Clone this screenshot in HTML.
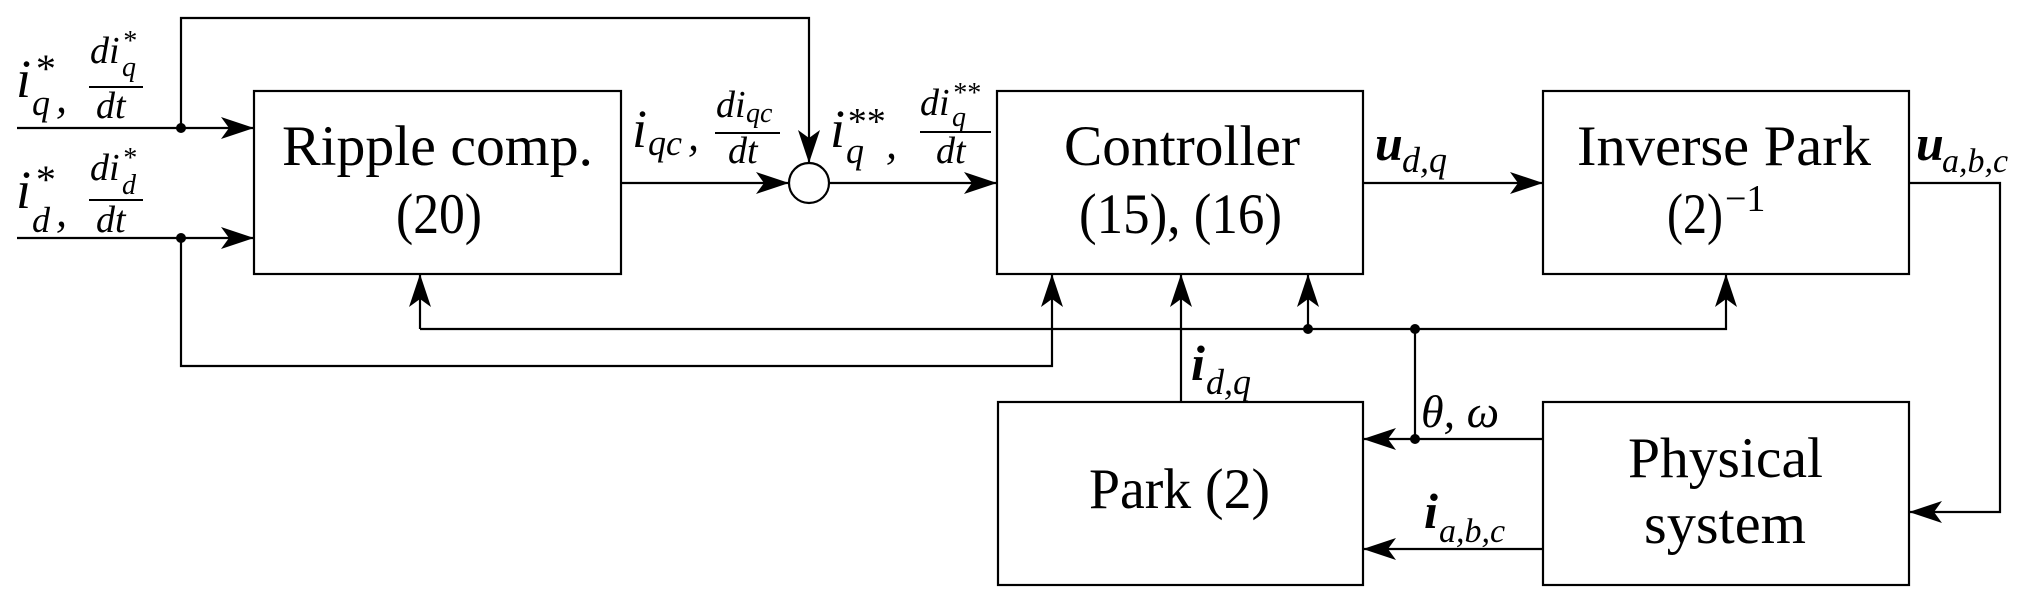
<!DOCTYPE html>
<html><head><meta charset="utf-8"><style>html,body{margin:0;padding:0;background:#fff}svg{display:block}</style></head>
<body>
<svg width="2041" height="605" viewBox="0 0 2041 605" xmlns="http://www.w3.org/2000/svg" font-family="'Liberation Serif', serif">
<defs>
<marker id="a" markerWidth="34" markerHeight="24" refX="33" refY="12" orient="auto" markerUnits="userSpaceOnUse">
<path d="M0,1 L33,12 L0,23 L8,12 Z" fill="#000"/>
</marker>
</defs>
<g stroke="#000" stroke-width="2.2" fill="none">
<rect x="254" y="91" width="367" height="183"/>
<rect x="997" y="91" width="366" height="183"/>
<rect x="1543" y="91" width="366" height="183"/>
<rect x="998" y="402" width="365" height="183"/>
<rect x="1543" y="402" width="366" height="183"/>
<circle cx="809" cy="183" r="20"/>
<path d="M17,128 H254" marker-end="url(#a)"/>
<path d="M17,238 H254" marker-end="url(#a)"/>
<path d="M181,128 V18 H809 V163" marker-end="url(#a)"/>
<path d="M181,238 V366 H1052 V274" marker-end="url(#a)"/>
<path d="M621,183 H789" marker-end="url(#a)"/>
<path d="M829,183 H997" marker-end="url(#a)"/>
<path d="M1363,183 H1543" marker-end="url(#a)"/>
<path d="M1909,183 H2000 V512 H1909" marker-end="url(#a)"/>
<path d="M420,329 H1726 V274" marker-end="url(#a)"/>
<path d="M420,329 V274" marker-end="url(#a)"/>
<path d="M1308,329 V274" marker-end="url(#a)"/>
<path d="M1181,402 V274" marker-end="url(#a)"/>
<path d="M1415,329 V439"/>
<path d="M1543,439 H1363" marker-end="url(#a)"/>
<path d="M1543,549 H1363" marker-end="url(#a)"/>
<path d="M89,87 H143 M89,200 H143 M715,133 H780 M920,132 H991" stroke-width="2"/>
</g>
<g fill="#000">
<circle cx="181" cy="128" r="5"/>
<circle cx="181" cy="238" r="5"/>
<circle cx="1308" cy="329" r="5"/>
<circle cx="1415" cy="329" r="5"/>
<circle cx="1415" cy="439" r="5"/>
</g>
<g font-size="57" text-anchor="start">
<text x="282" y="165" textLength="311" lengthAdjust="spacingAndGlyphs">Ripple comp.</text>
<text x="396" y="233" textLength="86" lengthAdjust="spacingAndGlyphs">(20)</text>
<text x="1064" y="165" textLength="236" lengthAdjust="spacingAndGlyphs">Controller</text>
<text x="1079" y="233" textLength="203" lengthAdjust="spacingAndGlyphs">(15), (16)</text>
<text x="1577" y="165" textLength="294" lengthAdjust="spacingAndGlyphs">Inverse Park</text>
<text x="1667" y="233" textLength="56" lengthAdjust="spacingAndGlyphs">(2)</text>
<text x="1725" y="211" font-size="38">−1</text>
<text x="1089" y="508" textLength="181" lengthAdjust="spacingAndGlyphs">Park (2)</text>
<text x="1628" y="477" textLength="195" lengthAdjust="spacingAndGlyphs">Physical</text>
<text x="1644" y="543" textLength="162" lengthAdjust="spacingAndGlyphs">system</text>
</g>
<g font-style="italic">
<text x="16" y="97" font-size="54">i</text><text x="34" y="82" font-size="40">*</text><text x="32" y="115" font-size="36">q</text><text x="56" y="112" font-size="44">,</text>
<text x="90" y="63" font-size="38">di</text><text x="122" y="50" font-size="28">*</text><text x="122" y="76" font-size="28">q</text>
<text x="96" y="118" font-size="38">dt</text>
<text x="16" y="208" font-size="54">i</text><text x="34" y="193" font-size="40">*</text><text x="32" y="232" font-size="36">d</text><text x="56" y="226" font-size="44">,</text>
<text x="90" y="180" font-size="38">di</text><text x="122" y="167" font-size="28">*</text><text x="122" y="194" font-size="28">d</text>
<text x="96" y="232" font-size="38">dt</text>
<text x="632" y="147" font-size="54">i</text><text x="648" y="155" font-size="36">qc</text><text x="688" y="150" font-size="44">,</text>
<text x="716" y="117" font-size="38">di</text><text x="746" y="122" font-size="28">qc</text>
<text x="728" y="163" font-size="38">dt</text>
<text x="830" y="147" font-size="54">i</text><text x="846" y="134" font-size="38">**</text><text x="846" y="163" font-size="36">q</text><text x="886" y="158" font-size="44">,</text>
<text x="920" y="115" font-size="38">di</text><text x="952" y="102" font-size="28">**</text><text x="952" y="126" font-size="28">q</text>
<text x="936" y="163" font-size="38">dt</text>
<text x="1375" y="160" font-size="50" font-weight="bold">u</text><text x="1402" y="172" font-size="36">d,q</text>
<text x="1916" y="160" font-size="50" font-weight="bold">u</text><text x="1942" y="172" font-size="34">a,b,c</text>
<text x="1191" y="380" font-size="50" font-weight="bold">i</text><text x="1206" y="394" font-size="36">d,q</text>
<text x="1421" y="427" font-size="46">θ, ω</text>
<text x="1424" y="528" font-size="50" font-weight="bold">i</text><text x="1439" y="542" font-size="34">a,b,c</text>
</g>
</svg>
</body></html>
